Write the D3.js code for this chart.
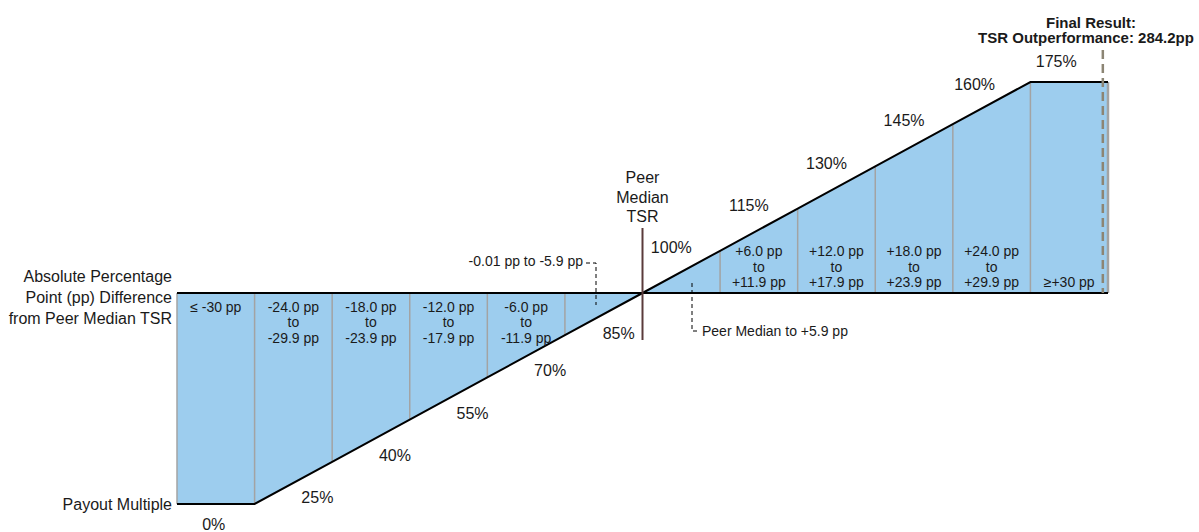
<!DOCTYPE html>
<html>
<head>
<meta charset="utf-8">
<script src="https://cdn.jsdelivr.net/npm/d3@7"></script>
<style>
    body { margin: 0; background: #fff; }
    text { font-family: "Liberation Sans", Arial, sans-serif; fill: #1a1a1a; }
</style>
</head>
<body>
<script>
const width = 1199;
const height = 532;

// band edges in pp difference vs peer median (outer bands are open-ended)
const bandEdges = [-36, -30, -24, -18, -12, -6, 0, 6, 12, 18, 24, 30, 36];
// payout multiple (%) at each edge, 0% band is drawn on the floor
const edgePayout = [0, 25, 40, 55, 70, 85, 100, 115, 130, 145, 160, 175, 175];
// payout label for each band
const bandPayout = [0, 25, 40, 55, 70, 85, 100, 115, 130, 145, 160, 175];
const bandText = [
    ["≤ -30 pp"],
    ["-24.0 pp", "to", "-29.9 pp"],
    ["-18.0 pp", "to", "-23.9 pp"],
    ["-12.0 pp", "to", "-17.9 pp"],
    ["-6.0 pp", "to", "-11.9 pp"],
    [],
    [],
    ["+6.0 pp", "to", "+11.9 pp"],
    ["+12.0 pp", "to", "+17.9 pp"],
    ["+18.0 pp", "to", "+23.9 pp"],
    ["+24.0 pp", "to", "+29.9 pp"],
    ["≥+30 pp"]
];
const finalResult = 284.2;
const finalMarkerPP = 35.6; // capped position of the result on the chart
const color = {
    fill: "#9dcdee",
    divider: "#a3a3a3",
    outline: "#000",
    peerLine: "#5a3b3b",
    marker: "#8c8574"
};

let svg = d3.select("body").append("svg")
    .attr("width", width)
    .attr("height", height);

svg.append("rect")
    .attr("width", width)
    .attr("height", height)
    .attr("fill", "#fff");

let x = d3.scaleLinear()
    .domain([-36, 36])
    .range([177, 1108]);

let y = d3.scaleLinear()
    .domain([25, 175])
    .range([504, 82])
    .clamp(true);

const curve = bandEdges.map((e, i) => ({pp: e, pay: edgePayout[i]}));

// filled area between the peer-median baseline and the payout curve
let area = d3.area()
    .x(d => x(d.pp))
    .y0(y(100))
    .y1(d => y(d.pay));

svg.append("path")
    .datum(curve)
    .attr("d", area)
    .attr("fill", color.fill);

// band dividers
svg.append("g")
    .selectAll("line")
    .data(curve)
    .enter()
    .append("line")
    .attr("x1", d => x(d.pp))
    .attr("x2", d => x(d.pp))
    .attr("y1", y(100))
    .attr("y2", d => y(d.pay))
    .attr("stroke", color.divider)
    .attr("stroke-width", d => d.pp === 36 ? 2.5 : 1.5);

// baseline
svg.append("line")
    .attr("x1", x(-36))
    .attr("x2", x(36))
    .attr("y1", y(100))
    .attr("y2", y(100))
    .attr("stroke", color.outline)
    .attr("stroke-width", 2);

// payout curve
let line = d3.line()
    .x(d => x(d.pp))
    .y(d => y(d.pay));

svg.append("path")
    .datum(curve)
    .attr("d", line)
    .attr("fill", "none")
    .attr("stroke", color.outline)
    .attr("stroke-width", 2);

// peer median vertical
svg.append("line")
    .attr("x1", x(0))
    .attr("x2", x(0))
    .attr("y1", 228)
    .attr("y2", 340)
    .attr("stroke", color.peerLine)
    .attr("stroke-width", 2);

// band text
let bands = svg.append("g")
    .selectAll("g")
    .data(bandText)
    .enter()
    .append("g");

bands.each(function (lines, i) {
    const cx = (x(bandEdges[i]) + x(bandEdges[i + 1])) / 2;
    const below = bandEdges[i] < 0;
    const lh = 15.4;
    lines.forEach((t, k) => {
        const yy = below ? 312 + k * lh : 287 - (lines.length - 1 - k) * lh;
        d3.select(this).append("text")
            .attr("x", cx)
            .attr("y", yy)
            .attr("text-anchor", "middle")
            .attr("font-size", 14)
            .text(t);
    });
});

// payout labels
svg.append("g")
    .selectAll("text")
    .data(bandPayout)
    .enter()
    .append("text")
    .attr("text-anchor", "middle")
    .attr("font-size", 16)
    .attr("x", (d, i) => {
        const cx = (x(bandEdges[i]) + x(bandEdges[i + 1])) / 2;
        if (d === 0) return cx - 2;
        if (d < 85) return cx + 24;
        if (d === 85) return cx + 15;
        if (d === 160) return cx - 17;
        if (d === 175) return cx - 13;
        return cx - 10;
    })
    .attr("y", (d, i) => {
        const cy = (y(edgePayout[i]) + y(edgePayout[i + 1])) / 2;
        if (d === 0) return 530;
        if (d < 85) return cy + 20;
        if (d === 85) return cy + 25;
        if (d === 160) return cy - 13;
        if (d === 175) return cy - 15;
        return cy - 19;
    })
    .text(d => d + "%");

// left side labels
const sideLines = ["Absolute Percentage", "Point (pp) Difference", "from Peer Median TSR"];
svg.append("g")
    .selectAll("text")
    .data(sideLines)
    .enter()
    .append("text")
    .attr("x", 172)
    .attr("y", (d, i) => 282 + i * 21)
    .attr("text-anchor", "end")
    .attr("font-size", 16)
    .text(d => d);

svg.append("text")
    .attr("x", 172)
    .attr("y", 510)
    .attr("text-anchor", "end")
    .attr("font-size", 16)
    .text("Payout Multiple");

// peer median title
["Peer", "Median", "TSR"].forEach((t, i) => {
    svg.append("text")
        .attr("x", x(0))
        .attr("y", 183 + i * 19.7)
        .attr("text-anchor", "middle")
        .attr("font-size", 16)
        .text(t);
});

// leader for the -0.01 to -5.9 band
svg.append("text")
    .attr("x", 583)
    .attr("y", 266)
    .attr("text-anchor", "end")
    .attr("font-size", 14)
    .text("-0.01 pp to -5.9 pp");

svg.append("path")
    .attr("d", "M586,263H596V305")
    .attr("fill", "none")
    .attr("stroke", "#000")
    .attr("stroke-width", 1)
    .attr("stroke-dasharray", "4,3");

// leader for the peer median to +5.9 band
svg.append("path")
    .attr("d", "M692,283V331H699")
    .attr("fill", "none")
    .attr("stroke", "#000")
    .attr("stroke-width", 1)
    .attr("stroke-dasharray", "4,3");

svg.append("text")
    .attr("x", 702)
    .attr("y", 336)
    .attr("font-size", 14)
    .text("Peer Median to +5.9 pp");

// final result marker
svg.append("line")
    .attr("x1", x(finalMarkerPP))
    .attr("x2", x(finalMarkerPP))
    .attr("y1", 50)
    .attr("y2", y(100))
    .attr("stroke", color.marker)
    .attr("stroke-width", 2.5)
    .attr("stroke-dasharray", "9,5");

svg.append("text")
    .attr("x", 1091)
    .attr("y", 28)
    .attr("text-anchor", "middle")
    .attr("font-size", 15)
    .attr("font-weight", "bold")
    .text("Final Result:");

svg.append("text")
    .attr("x", 1086)
    .attr("y", 43)
    .attr("text-anchor", "middle")
    .attr("font-size", 15)
    .attr("font-weight", "bold")
    .text("TSR Outperformance: " + finalResult + "pp");
</script>
</body>
</html>
